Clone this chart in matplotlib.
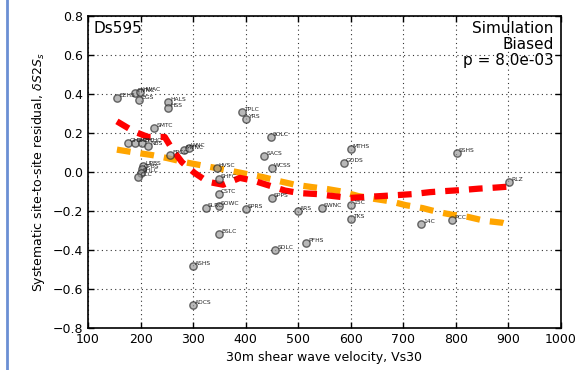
import matplotlib
matplotlib.use("Agg")
import matplotlib.pyplot as plt
from matplotlib.lines import Line2D

# site data: names, Vs30, residual
site_names = ["EEHS", "HVNC", "HWAC", "BGS", "HALS", "HSS", "SMTC", "TPLC", "YRS", "SOLC",
              "GHHC", "SMHC", "BHHC", "NBS", "FPCC", "MVNC", "WNC",
              "UPBS", "CPBS", "SHLC", "CLC",
              "HVSC", "SHFC", "CSTC", "SLRC", "SOWC", "SPRS", "BSLC", "SDLC", "ASHS", "ADCS",
              "SACS", "WCSS", "SPPS", "MTHS", "GODS", "SSHS", "ARS", "SWNC", "15C", "TKS",
              "PFHS", "14C", "PCC", "RLZ"]
site_vs30 = [155, 190, 199, 197, 252, 252, 226, 393, 400, 448,
             176, 189, 203, 214, 256, 282, 292,
             205, 202, 200, 196,
             345, 349, 349, 324, 349, 400, 349, 456, 300, 300,
             435, 450, 450, 600, 587, 802, 500, 545, 600, 600,
             515, 734, 793, 901]
site_resid = [0.38, 0.405, 0.41, 0.37, 0.36, 0.33, 0.225, 0.31, 0.27, 0.18,
              0.149, 0.15, 0.15, 0.133, 0.087, 0.112, 0.122,
              0.03, 0.015, -0.005, -0.025,
              0.02, -0.035, -0.115, -0.185, -0.175, -0.19, -0.32, -0.40, -0.48, -0.68,
              0.08, 0.02, -0.135, 0.118, 0.046, 0.097, -0.2, -0.185, -0.17, -0.24,
              -0.364, -0.267, -0.246, -0.05]

# red trend
red_x = [155, 186, 214, 246, 262, 279, 303, 328, 357, 389, 416, 475, 503, 536, 566,
         598, 627, 659, 690, 718, 751, 783, 813, 844, 874, 899, 901]
red_y = [0.26, 0.21, 0.18, 0.18, 0.11, 0.05, -0.005, -0.05, -0.065, -0.03, -0.045, -0.095,
         -0.108, -0.113, -0.123, -0.133, -0.128, -0.123, -0.118, -0.113, -0.103, -0.097,
         -0.092, -0.085, -0.08, -0.075, -0.05]
# orange trend
org_x = [155, 189, 222, 250, 285, 313, 345, 374, 402, 433, 463, 494, 526, 555, 583,
         614, 646, 675, 705, 737, 766, 795, 823, 855, 888, 900]
org_y = [0.115, 0.10, 0.087, 0.072, 0.05, 0.036, 0.02, 0.005, -0.01, -0.026, -0.046, -0.065,
         -0.077, -0.087, -0.1, -0.123, -0.138, -0.15, -0.17, -0.185, -0.205, -0.22,
         -0.23, -0.25, -0.26, -0.27]

fig = plt.figure(figsize=(5.81, 3.70), dpi=100)
ax = fig.add_axes([0.1515, 0.1135, 0.814, 0.843])

ax.plot(org_x, org_y, color="orange", lw=4.5, ls=(0, (2.2, 1.6)), zorder=3)
ax.plot(red_x, red_y, color="red", lw=4.5, ls=(0, (2.2, 1.6)), zorder=3)
ax.scatter(site_vs30, site_resid, s=28, facecolor="#9a9a9a", edgecolor="#303030",
           linewidth=1.0, alpha=0.7, zorder=4)
for n, x, y in zip(site_names, site_vs30, site_resid):
    ax.text(x + 4, y + 0.005, n, fontsize=4.3, color="#222222", zorder=5)

ax.set_xlim(100, 1000)
ax.set_ylim(-0.8, 0.8)
ax.set_xticks(range(100, 1001, 100))
ax.set_yticks([-0.8, -0.6, -0.4, -0.2, 0.0, 0.2, 0.4, 0.6, 0.8])
ax.grid(True, color="black", ls=(0, (1, 3)), lw=0.8, alpha=0.8)
ax.tick_params(direction="in", top=True, right=True, labelsize=9, length=4, width=1)
for s in ax.spines.values():
    s.set_linewidth(1.2)
ax.set_xlabel("30m shear wave velocity, Vs30", fontsize=9)
ax.set_ylabel(r"Systematic site-to-site residual, $\delta S2S_s$", fontsize=9)

ax.text(0.012, 0.985, "Ds595", transform=ax.transAxes, fontsize=11, va="top", ha="left")
ax.text(0.985, 0.985, "Simulation\nBiased\np = 8.0e-03", transform=ax.transAxes,
        fontsize=11, va="top", ha="right", linespacing=1.1)

fig.add_artist(Line2D([0.012, 0.012], [0, 1], transform=fig.transFigure,
                      color="#6b8fd4", lw=2))

fig.savefig("out.png", dpi=100)
